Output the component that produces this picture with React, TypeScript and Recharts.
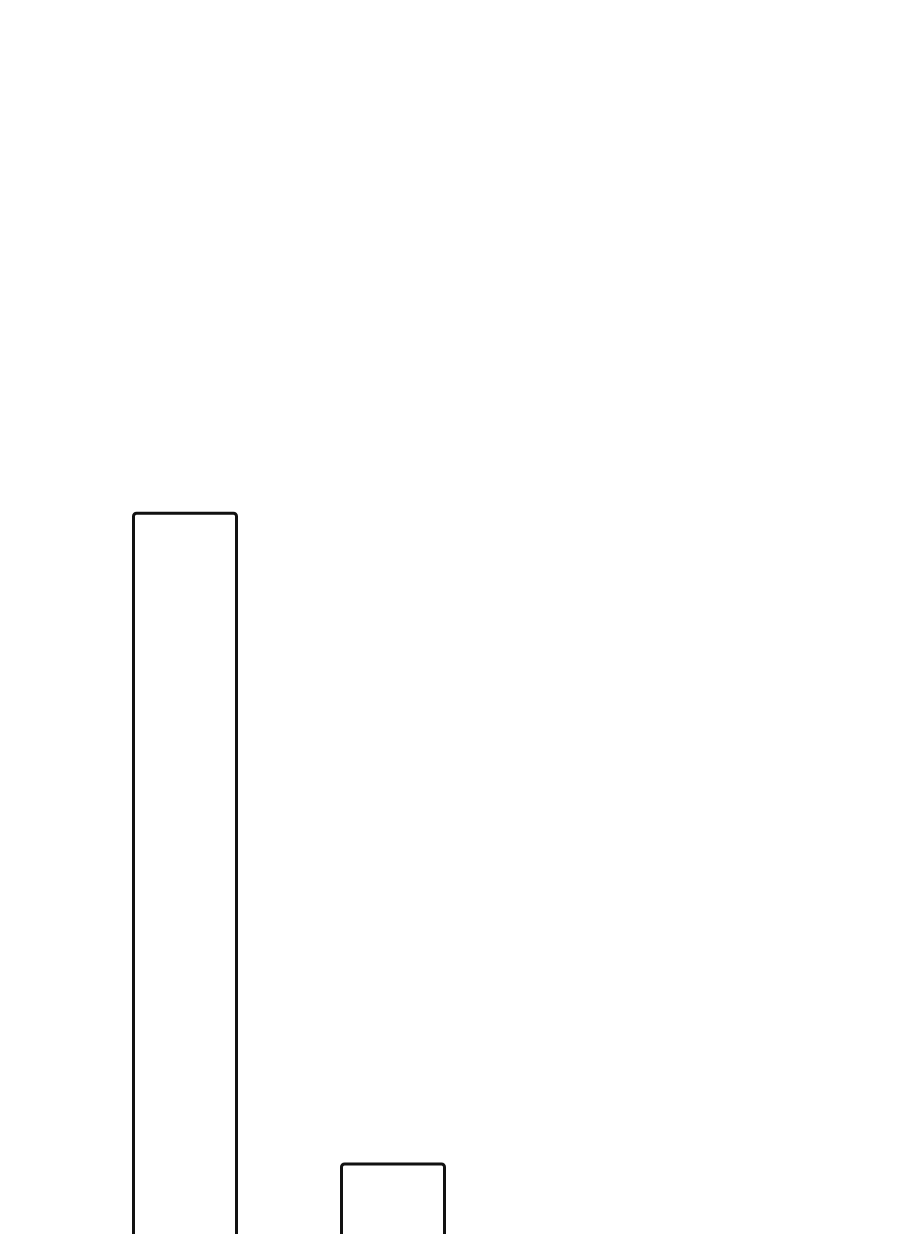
import { BarChart, Bar, XAxis, YAxis } from "recharts";

const categories = ["A", "B"];
const values = [80, 14];

const data = categories.map((name, i) => ({ name, value: values[i] }));

export default function App() {
  return (
    <div style={{ width: 884, height: 1294, background: "#ffffff" }}>
      <BarChart
        width={884}
        height={1294}
        data={data}
        margin={{ top: 308, right: 395.5, bottom: 0, left: 72.5 }}
      >
        <XAxis dataKey="name" hide />
        <YAxis hide domain={[0, 100]} />
        <Bar
          dataKey="value"
          barSize={103}
          fill="#ffffff"
          stroke="#111111"
          strokeWidth={3}
          radius={[3, 3, 0, 0]}
          isAnimationActive={false}
        />
      </BarChart>
    </div>
  );
}
